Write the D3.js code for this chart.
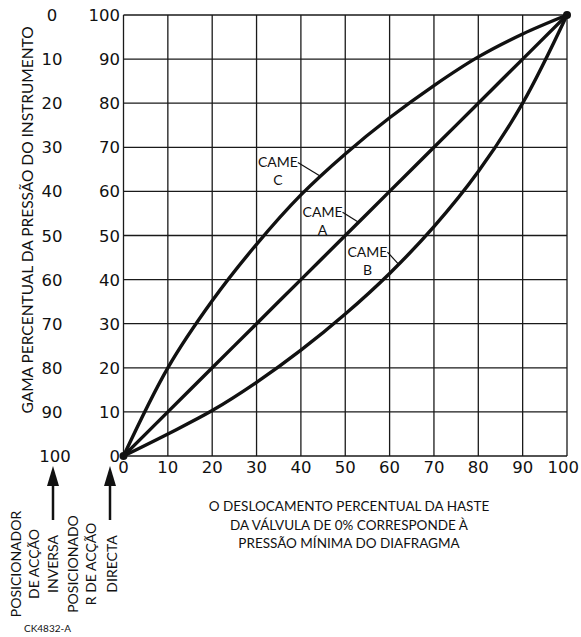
<!DOCTYPE html>
<html>
<head>
<meta charset="utf-8">
<script src="https://cdn.jsdelivr.net/npm/d3@7"></script>
<style>
  body { margin: 0; background: #fff; }
  text { fill: #111; }
  .lbl { font-family: Lato, "Open Sans", sans-serif; }
  .tick { font-family: "DejaVu Sans", sans-serif; font-size: 16.5px; }
</style>
</head>
<body>
<svg id="chart" width="581" height="637"></svg>
<script>
// percent of stem travel (x) and instrument pressure (y) for each cam
var travel = [0, 10, 20, 30, 40, 50, 60, 70, 80, 90, 100];
var cameA = [0, 10, 20, 30, 40, 50, 60, 70, 80, 90, 100];
var cameB = [0, 5, 10.3, 16.7, 24, 32.2, 41.4, 52, 64.5, 80, 100];
var cameC = [0, 20, 35.2, 48, 59.2, 68.5, 76.7, 84, 90.5, 95.7, 100];

var xTicks = [0, 10, 20, 30, 40, 50, 60, 70, 80, 90, 100];
var yTicksDirect = [0, 10, 20, 30, 40, 50, 60, 70, 80, 90, 100];
var yTicksReverse = [100, 90, 80, 70, 60, 50, 40, 30, 20, 10, 0];

// cam label: where its leader touches the curve (travel %)
var cams = [
  { name: "C", values: cameC, at: 44.5, dx: -43, dy: -14 },
  { name: "A", values: cameA, at: 53, dx: -36, dy: -10 },
  { name: "B", values: cameB, at: 62, dx: -31, dy: -12 }
];

var svg = d3.select("#chart");

var x = d3.scaleLinear().domain([0, 100]).range([123.5, 567]);
var y = d3.scaleLinear().domain([0, 100]).range([456, 15]);

// grid
var grid = svg.append("g")
  .attr("stroke", "#1a1a1a")
  .attr("stroke-width", 1.3);

grid.selectAll("line.v")
  .data(xTicks)
  .enter()
  .append("line")
  .attr("class", "v")
  .attr("x1", function (d) { return x(d); })
  .attr("x2", function (d) { return x(d); })
  .attr("y1", y(0))
  .attr("y2", y(100));

grid.selectAll("line.h")
  .data(yTicksDirect)
  .enter()
  .append("line")
  .attr("class", "h")
  .attr("y1", function (d) { return y(d); })
  .attr("y2", function (d) { return y(d); })
  .attr("x1", x(0))
  .attr("x2", x(100));

// tick labels
svg.selectAll("text.xt")
  .data(xTicks)
  .enter()
  .append("text")
  .attr("class", "tick xt")
  .attr("x", function (d) { return d === 100 ? 579 : x(d); })
  .attr("y", 473)
  .attr("text-anchor", function (d) { return d === 100 ? "end" : "middle"; })
  .text(function (d) { return d; });

svg.selectAll("text.yd")
  .data(yTicksDirect)
  .enter()
  .append("text")
  .attr("class", "tick yd")
  .attr("x", 120)
  .attr("y", function (d) { return y(d) + 6; })
  .attr("text-anchor", "end")
  .text(function (d) { return d; });

svg.selectAll("text.yr")
  .data(yTicksReverse)
  .enter()
  .append("text")
  .attr("class", "tick yr")
  .attr("x", function (d) { return d === 100 ? 55 : 52; })
  .attr("y", function (d, i) { return y(yTicksDirect[i]) + 6; })
  .attr("text-anchor", "middle")
  .text(function (d) { return d; });

// curves
var line = d3.line()
  .x(function (d) { return x(d[0]); })
  .y(function (d) { return y(d[1]); })
  .curve(d3.curveCatmullRom.alpha(0.5));

svg.selectAll("path.cam")
  .data(cams)
  .enter()
  .append("path")
  .attr("class", "cam")
  .attr("fill", "none")
  .attr("stroke", "#111")
  .attr("stroke-width", 3.4)
  .attr("d", function (c) {
    return line(travel.map(function (t, i) { return [t, c.values[i]]; }));
  });

// end blobs
svg.selectAll("circle.end")
  .data([0, 100])
  .enter()
  .append("circle")
  .attr("class", "end")
  .attr("cx", function (d) { return x(d); })
  .attr("cy", function (d) { return y(d); })
  .attr("r", 4)
  .attr("fill", "#111");

function valueAt(values, t) {
  var i = Math.min(Math.floor(t / 10), 9);
  var f = (t - travel[i]) / 10;
  return values[i] + f * (values[i + 1] - values[i]);
}

// cam labels with leaders
cams.forEach(function (c) {
  var px = x(c.at), py = y(valueAt(c.values, c.at));
  var g = svg.append("g").attr("transform", "translate(" + (px + c.dx) + "," + (py + c.dy) + ")");
  g.append("line")
    .attr("x1", 20).attr("y1", 0)
    .attr("x2", -c.dx).attr("y2", -c.dy)
    .attr("stroke", "#111").attr("stroke-width", 1.2);
  g.append("text").attr("class", "lbl")
    .attr("font-size", 14)
    .attr("text-anchor", "middle")
    .attr("y", 5)
    .text("CAME");
  g.append("text").attr("class", "lbl")
    .attr("font-size", 14)
    .attr("text-anchor", "middle")
    .attr("y", 23)
    .text(c.name);
});

// y axis title
svg.append("text")
  .attr("class", "lbl")
  .attr("font-size", 15.5)
  .attr("text-anchor", "middle")
  .attr("transform", "translate(33,220) rotate(-90)")
  .text("GAMA PERCENTUAL DA PRESSÃO DO INSTRUMENTO");

// x axis caption
var caption = ["O DESLOCAMENTO PERCENTUAL DA HASTE",
  "DA VÁLVULA DE 0% CORRESPONDE À",
  "PRESSÃO MÍNIMA DO DIAFRAGMA"];
svg.selectAll("text.cap")
  .data(caption)
  .enter()
  .append("text")
  .attr("class", "lbl cap")
  .attr("font-size", 13.5)
  .attr("text-anchor", "middle")
  .attr("x", 349)
  .attr("y", function (d, i) { return 511 + i * 18.5; })
  .text(function (d) { return d; });

// positioner arrows
var arrows = [
  { x: 53, lines: ["POSICIONADOR", "DE ACÇÃO", "INVERSA"], tx: [21, 39, 58] },
  { x: 110, lines: ["POSICIONADO", "R DE ACÇÃO", "DIRECTA"], tx: [78, 96, 117] }
];
arrows.forEach(function (a) {
  svg.append("line")
    .attr("x1", a.x).attr("x2", a.x)
    .attr("y1", 482).attr("y2", 520)
    .attr("stroke", "#111").attr("stroke-width", 2.5);
  svg.append("path")
    .attr("d", "M" + a.x + ",466 L" + (a.x - 6) + ",486 L" + (a.x + 6) + ",486 Z")
    .attr("fill", "#111");
  a.lines.forEach(function (t, i) {
    svg.append("text")
      .attr("class", "lbl")
      .attr("font-size", 14)
      .attr("text-anchor", "middle")
      .attr("transform", "translate(" + a.tx[i] + ",564) rotate(-90)")
      .text(t);
  });
});

svg.append("text")
  .attr("class", "lbl")
  .attr("font-size", 10)
  .attr("x", 24)
  .attr("y", 632)
  .text("CK4832-A");
</script>
</body>
</html>
